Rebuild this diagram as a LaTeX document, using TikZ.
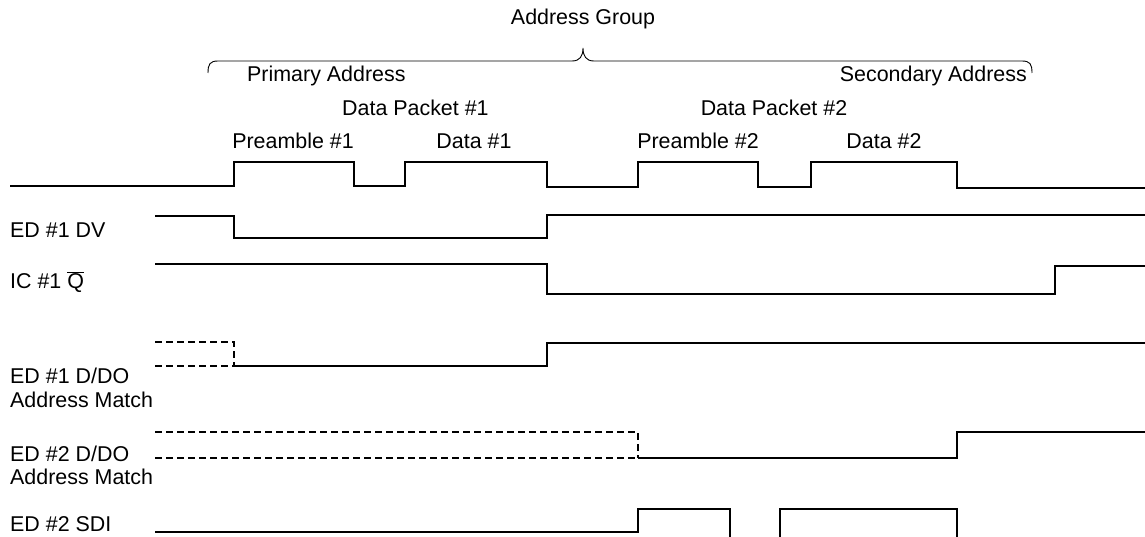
\documentclass[tikz,border=0pt]{standalone}
\usepackage{fontspec}
\setmainfont{Liberation Sans}
\begin{document}
\begin{tikzpicture}[x=1bp,y=-1bp,
  sig/.style={line width=1.6bp,line join=miter},
  dsig/.style={line width=1.6bp,dash pattern=on 7bp off 4bp},
  brace/.style={line width=0.9bp},
  lbl/.style={inner sep=0pt,font=\fontsize{21.5}{25}\selectfont}]
\useasboundingbox (0,0) rectangle (1145,537);
% top texts
\node[lbl,anchor=base] (ag) at (583,25) {Address Group};
\node[lbl,anchor=base west] (pa) at (247,82) {Primary Address};
\node[lbl,anchor=base east] (sa) at (1027,82) {Secondary Address};
\node[lbl,anchor=base west] (dp1) at (342,116) {Data Packet \#1};
\node[lbl,anchor=base] (dp2) at (774,116) {Data Packet \#2};
\node[lbl,anchor=base] (pr1) at (293,149) {Preamble \#1};
\node[lbl,anchor=base] (d1) at (474,149) {Data \#1};
\node[lbl,anchor=base] (pr2) at (698,149) {Preamble \#2};
\node[lbl,anchor=base] (d2) at (884,149) {Data \#2};
% brace
\draw[brace] (208,73) .. controls (208,64) and (210,61) .. (218,61) -- (572,61)
  .. controls (580,61) and (583,56) .. (583,48)
  .. controls (583,56) and (586,61) .. (594,61) -- (1022,61)
  .. controls (1030,61) and (1032,64) .. (1032,73);
% left labels
\node[lbl,anchor=base west] (l1) at (10,238) {ED \#1 DV};
\node[lbl,anchor=base west] (l2) at (10,289) {IC \#1 $\overline{\mbox{Q}}$};
\node[lbl,anchor=base west] (l3) at (10,384) {ED \#1 D/DO};
\node[lbl,anchor=base west] (l3b) at (10,407) {Address Match};
\node[lbl,anchor=base west] (l4) at (10,461) {ED \#2 D/DO};
\node[lbl,anchor=base west] (l4b) at (10,484) {Address Match};
\node[lbl,anchor=base west] (l5) at (10,531) {ED \#2 SDI};
% data line
\draw[sig] (10,186) -- (234,186) -- (234,162) -- (354,162) -- (354,186) -- (405,186)
  -- (405,162) -- (547,162) -- (547,187) -- (638,187) -- (638,162) -- (758,162)
  -- (758,187) -- (811,187) -- (811,162) -- (957,162) -- (957,188) -- (1145,188);
% ED1 DV
\draw[sig] (155,216) -- (234,216) -- (234,238) -- (547,238) -- (547,215) -- (1145,215);
% IC1 Q
\draw[sig] (155,264) -- (547,264) -- (547,294) -- (1055,294) -- (1055,266) -- (1145,266);
% ED1 D/DO
\draw[dsig] (155,342) -- (234,342) -- (234,366);
\draw[dsig] (155,366) -- (234,366);
\draw[sig] (234,366) -- (547,366) -- (547,343) -- (1145,343);
% ED2 D/DO
\draw[dsig] (155,432) -- (638,432) -- (638,458);
\draw[dsig] (155,458) -- (638,458);
\draw[sig] (638,458) -- (957,458) -- (957,432) -- (1145,432);
% ED2 SDI
\draw[sig] (155,532) -- (638,532) -- (638,509) -- (730,509) -- (730,537);
\draw[sig] (780,537) -- (780,509) -- (957,509) -- (957,537);
\end{tikzpicture}
\end{document}
